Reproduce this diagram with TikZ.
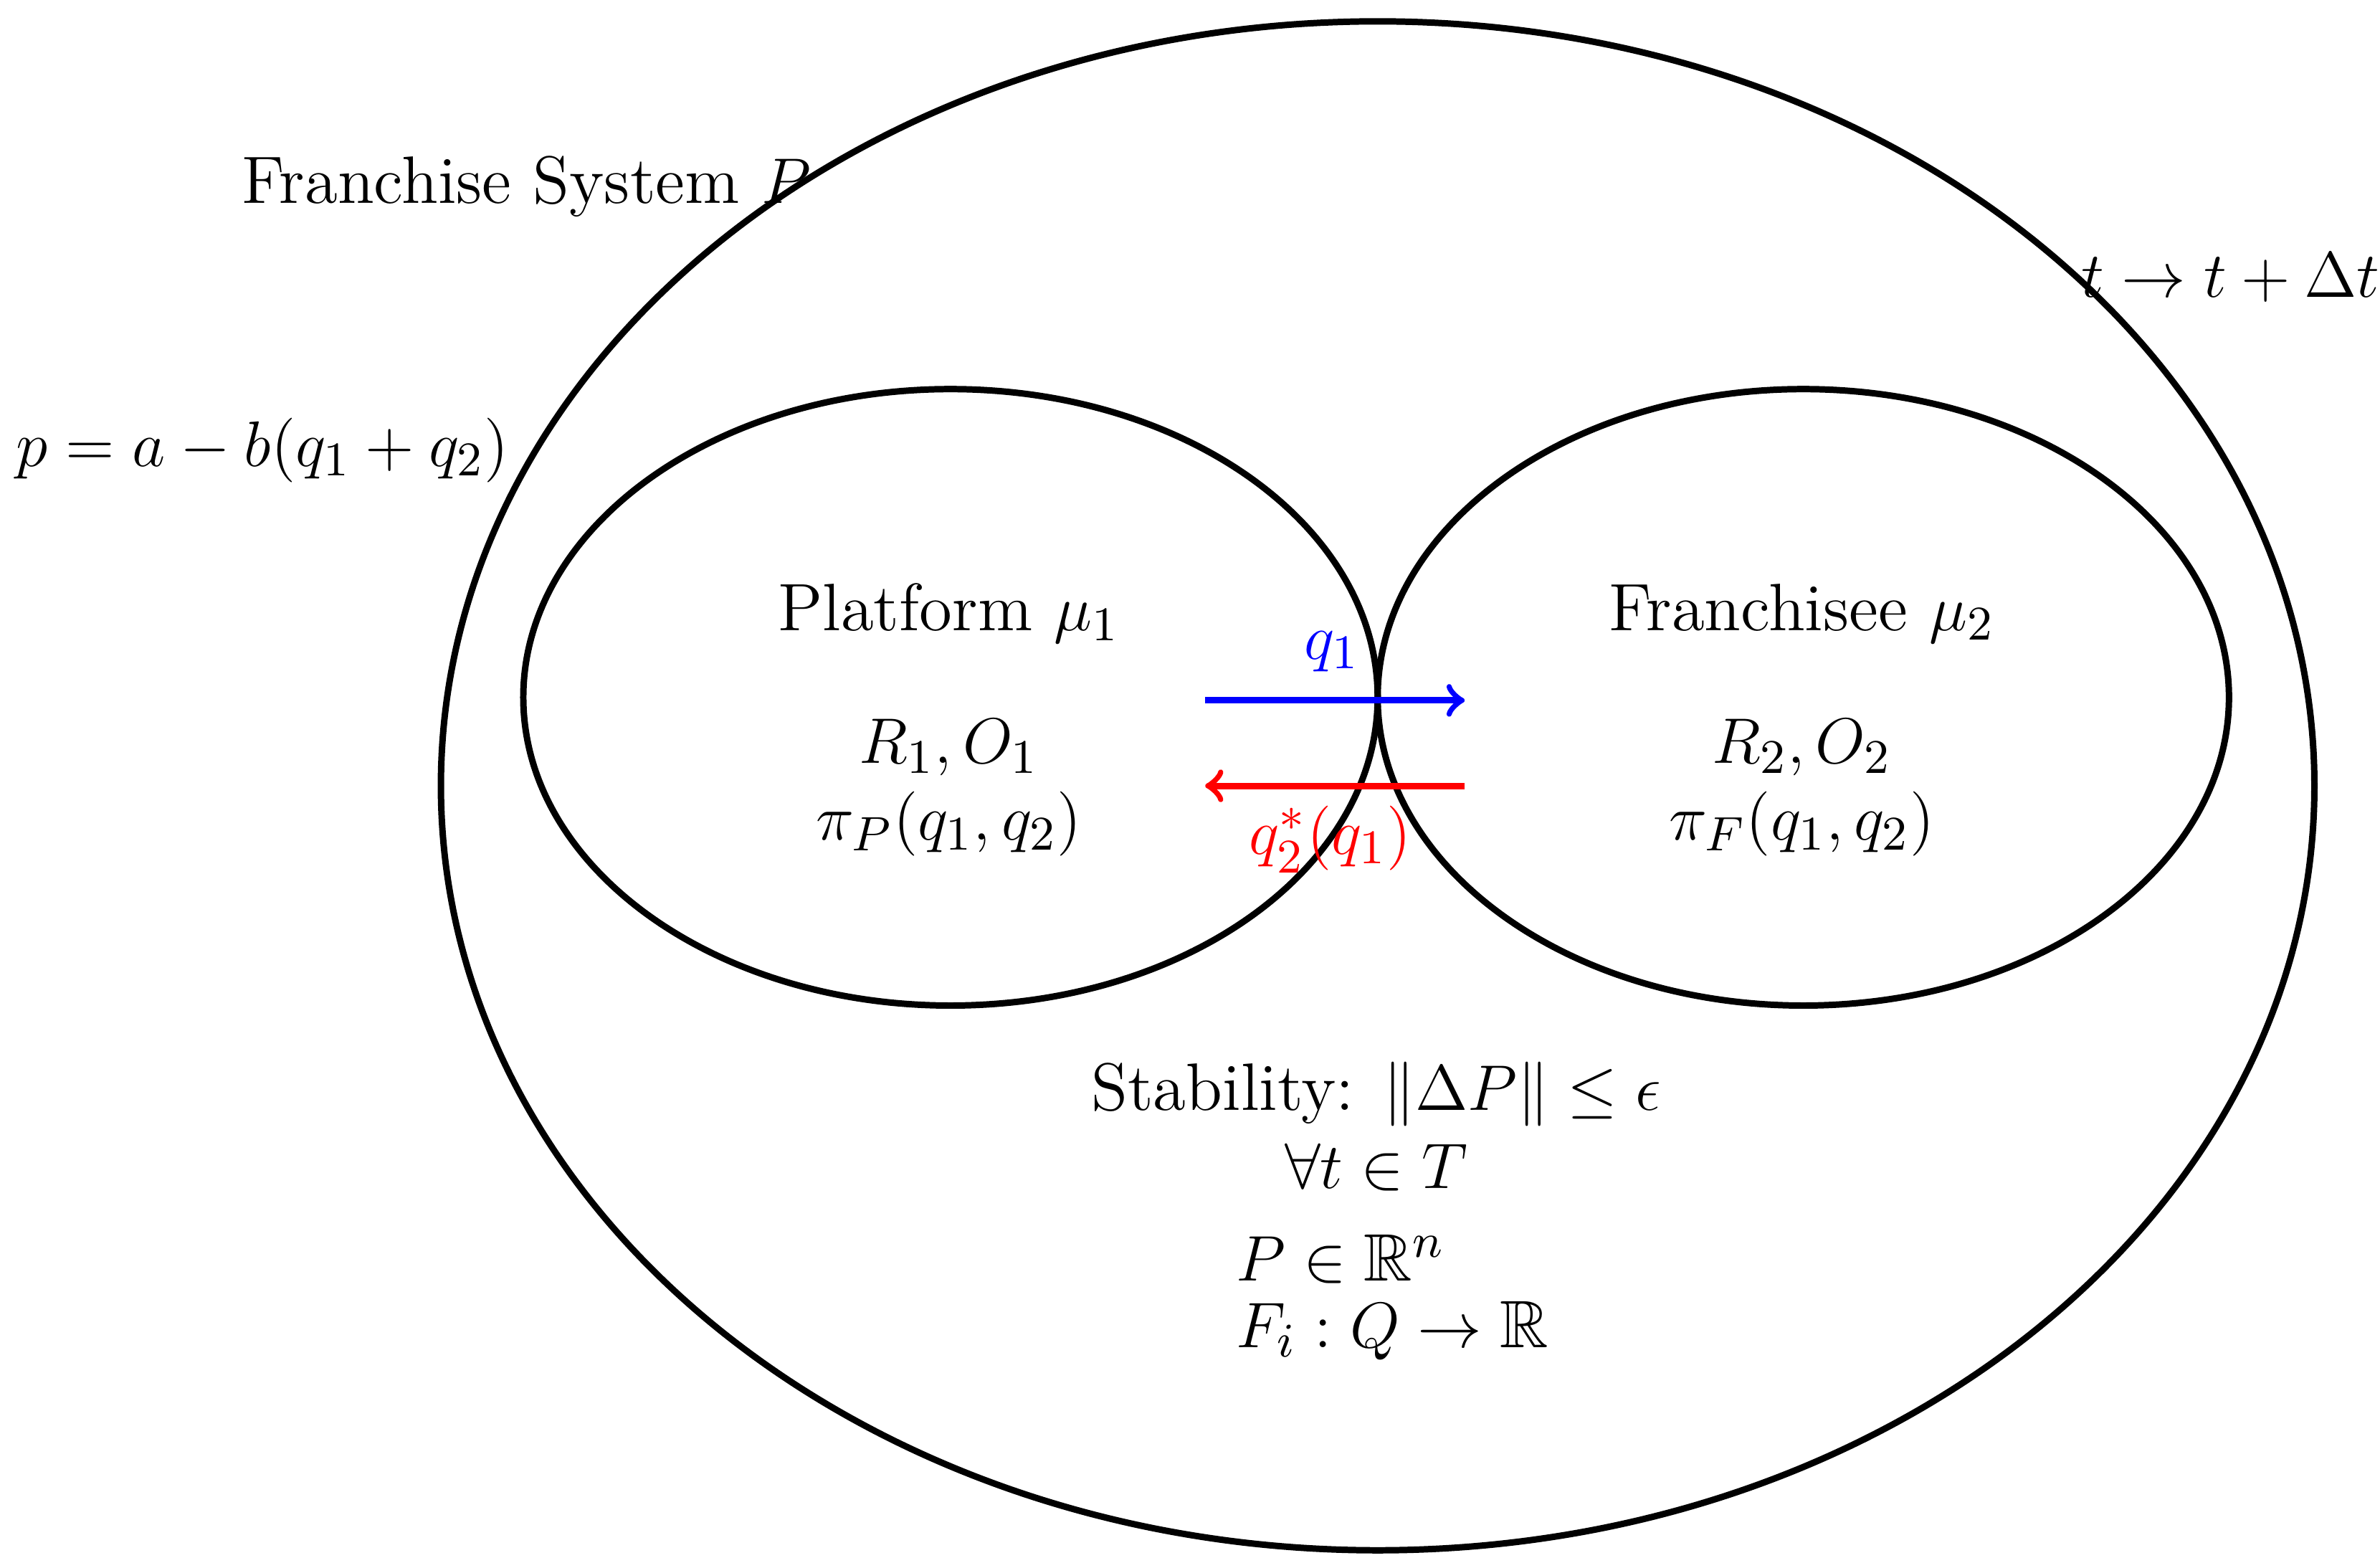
\documentclass[tikz,border=0pt]{standalone}
\usepackage{amsmath,amssymb}
\begin{document}
\begin{tikzpicture}[x=0.01cm,y=-0.01cm,
  lbl/.style={font=\fontsize{12.5}{15}\selectfont, inner sep=1pt},
  ell/.style={line width=1.2pt}]
\useasboundingbox (0,0) rectangle (1560,1024);
\draw[ell] (903,515) ellipse [x radius=614, y radius=501];
\draw[ell] (623,457) ellipse [x radius=280, y radius=202];
\draw[ell] (1182,457) ellipse [x radius=279, y radius=202];
\node[lbl] (sys) at (345,122) {Franchise System $P$};
\node[lbl] (time) at (1462,182) {$t \rightarrow t + \Delta t$};
\node[lbl] (price) at (172,295) {$p = a - b(q_1 + q_2)$};
\node[lbl] (plat) at (622,402) {Platform $\mu_1$};
\node[lbl] (ro1) at (622,490) {$R_1, O_1$};
\node[lbl] (pi1) at (622,540) {$\pi_P(q_1, q_2)$};
\node[lbl] (fran) at (1181,402) {Franchisee $\mu_2$};
\node[lbl] (ro2) at (1181,490) {$R_2, O_2$};
\node[lbl] (pi2) at (1181,540) {$\pi_F(q_1, q_2)$};
\coordinate (a1) at (790,459); \coordinate (b1) at (960,459);
\coordinate (a2) at (960,515); \coordinate (b2) at (790,515);
\draw[blue,line width=1.2pt,->] (a1) -- (b1);
\draw[red,line width=1.2pt,->] (a2) -- (b2);
\node[lbl,blue] (q1) at (873,427) {$q_1$};
\node[lbl,red] (q2) at (872,550) {$q_2^*(q_1)$};
\node[lbl] (stab) at (902,717) {Stability: $\|\Delta P\| \leq \epsilon$};
\node[lbl] (all) at (902,765) {$\forall t \in T$};
\node[lbl,anchor=west] (pr) at (806,825) {$P \in \mathbb{R}^n$};
\node[lbl,anchor=west] (fi) at (806,872) {$F_i : Q \rightarrow \mathbb{R}$};
\end{tikzpicture}
\end{document}
